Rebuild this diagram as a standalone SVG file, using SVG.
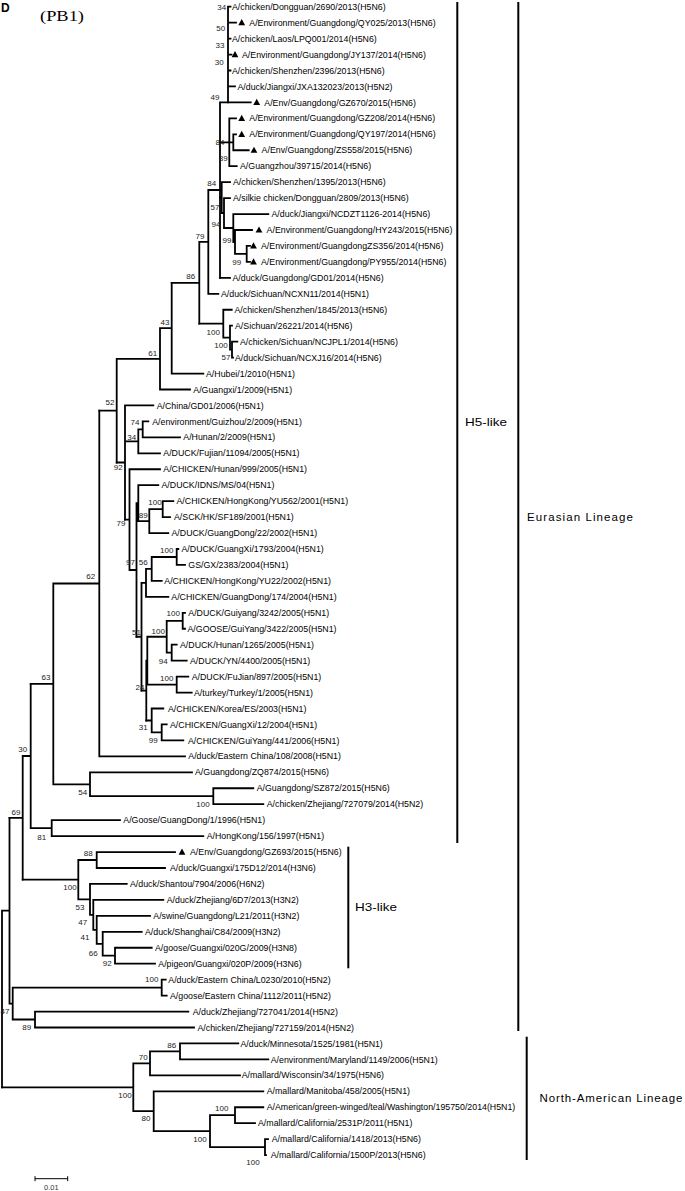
<svg xmlns="http://www.w3.org/2000/svg" xmlns:xlink="http://www.w3.org/1999/xlink" width="685" height="1191" viewBox="0 0 685 1191">
<style>
.l{font-family:"Liberation Sans",Arial,sans-serif;font-size:8.8px;fill:#000}
.b{font-family:"Liberation Sans",Arial,sans-serif;font-size:8px;fill:#222;text-anchor:middle}
.t{stroke:#000;stroke-width:1.8;fill:none;stroke-linecap:square}
.bar{stroke:#000;stroke-width:2;fill:none}
.g{font-family:"Liberation Sans",Arial,sans-serif;font-size:11.5px;fill:#000}
</style>
<defs><path id="tri" d="M0,-3.6 L3.4,2.6 L-3.4,2.6 Z" fill="#000"/></defs>
<rect width="685" height="1191" fill="#fff"/>
<text x="1" y="12" font-family="Liberation Sans,Arial,sans-serif" font-size="12" font-weight="bold">D</text>
<text x="40" y="21" font-family="Liberation Serif,Times New Roman,serif" font-size="14" textLength="44" lengthAdjust="spacingAndGlyphs">(PB1)</text>
<g id="connectors" class="t">
<path d="M228,6.7V102.4 M228,6.7H230.5 M228,22.65H236 M228,38.6H230.5 M228,54.55H231.5 M228,70.5H230.5 M228,86.45H235"/>
<path d="M220,102.4V277.85 M220,102.4H250.7"/>
<path d="M220,142.3H229.3 M229.3,118.35V166.2 M229.3,142.3H233.3 M233.3,134.3V150.25 M229.3,118.35H236 M233.3,134.3H236 M233.3,150.25H248.7 M229.3,166.2H236.7"/>
<path d="M220,197.6H221.7 M221.7,182.15V213 M221.7,182.15H230 M221.7,213H224 M224,198.1V228 M224,198.1H230 M224,228H233.3 M233.3,214.05V242 M233.3,214.05H268.3 M233.3,242H235 M235,230V253.9 M235,230H252 M235,253.9H246.7 M246.7,245.95V261.9 M246.7,245.95H250 M246.7,261.9H250 M220,277.85H230"/>
<path d="M208.3,190H220 M208.3,190V293.8 M208.3,293.8H218.3 M199.3,241.9H208.3 M199.3,241.9V323.7 M171.7,282.8H199.3"/>
<path d="M199.3,323.7H223.3 M223.3,309.75V337.7 M223.3,309.75H231.7 M223.3,337.7H230 M230,325.7V349.6 M230,325.7H232 M230,349.6H232 M232,341.65V357.6 M232,341.65H237.3 M232,357.6H233"/>
<path d="M171.7,282.8V373.55 M160,328.2H171.7 M171.7,373.55H203.3 M160,328.2V389.5 M116.7,358.85H160 M160,389.5H190 M116.7,358.85V462.5 M99.3,410.7H116.7"/>
<path d="M116.7,462.5H125 M125,405.45V519.6 M125,405.45H153.3 M125,441.35H138.3 M138.3,429.4V453.3 M138.3,453.3H160 M138.3,429.4H142.7 M142.7,421.4V437.35 M142.7,421.4H148.3 M142.7,437.35H180"/>
<path d="M125,519.6H129.5 M129.5,469.25V570 M129.5,469.25H160 M129.5,570H136.5 M136.5,503.2V636.75 M136.5,503.2H138.3 M138.3,485.2V521.1 M138.3,485.2H158.3 M138.3,521.1H149.3 M149.3,509.1V533.05 M149.3,533.05H168.3 M149.3,509.1H162.7 M162.7,501.15V517.1 M162.7,501.15H173.3 M162.7,517.1H170"/>
<path d="M136.5,636.75H141.5 M141.5,582.9V690.6 M141.5,582.9H146 M146,568.95V596.85 M146,596.85H168.3 M146,568.95H151.7 M151.7,557V580.9 M151.7,580.9H161.7 M151.7,557H176.7 M176.7,549V564.95 M176.7,549H178.3 M176.7,564.95H185"/>
<path d="M141.5,690.6H146.3 M146.3,660.7V720.5 M146.3,660.7H147.3 M147.3,636.75V684.6 M147.3,636.75H166.7 M166.7,620.8V652.7 M166.7,620.8H182.7 M182.7,612.8V628.75 M182.7,612.8H185 M182.7,628.75H185 M166.7,652.7H171.7 M171.7,644.7V660.65 M171.7,644.7H176.7 M171.7,660.65H186.7 M147.3,684.6H176.7 M176.7,676.6V692.55 M176.7,676.6H188.3 M176.7,692.55H191.7"/>
<path d="M146.3,720.5H151.7 M151.7,708.5V732.4 M151.7,708.5H163.3 M151.7,732.4H161.7 M161.7,724.45V740.4 M161.7,724.45H166.7 M161.7,740.4H183.3"/>
<path d="M99.3,410.7V756.35 M53.3,583.5H99.3 M99.3,756.35H185 M53.3,583.5V784.3 M30.7,683.9H53.3 M53.3,784.3H90 M90,772.3V796.2 M90,772.3H192 M90,796.2H213.3 M213.3,788.25V804.2 M213.3,788.25H253.3 M213.3,804.2H263.3"/>
<path d="M30.7,683.9V828.1 M22.7,756H30.7 M30.7,828.1H51.7 M51.7,820.15V836.1 M51.7,820.15H120 M51.7,836.1H203.3 M22.7,756V879.7 M9.5,817.9H22.7"/>
<path d="M22.7,879.7H78.3 M78.3,860V899.4 M78.3,860H96.7 M96.7,852.05V868 M96.7,852.05H175 M96.7,868H165 M78.3,899.4H90 M90,883.95V914.9 M90,883.95H126.7 M90,914.9H93.3 M93.3,899.9V929.8 M93.3,899.9H163.3 M93.3,929.8H96.7 M96.7,915.85V943.8 M96.7,915.85H150 M96.7,943.8H102.7 M102.7,931.8V955.7 M102.7,931.8H141.7 M102.7,955.7H115 M115,947.75V963.7 M115,947.75H151.7 M115,963.7H155"/>
<path d="M9.5,817.9V1003.6 M2,910.7H9.5 M9.5,1003.6H12.7 M12.7,987.6V1019.5 M12.7,987.6H161.7 M161.7,979.65V995.6 M161.7,979.65H165.7 M161.7,995.6H166.7 M12.7,1019.5H35 M35,1011.55V1027.5 M35,1011.55H188.3 M35,1027.5H194 M2,910.7V1087.3"/>
<path d="M2,1087.3H133.3 M133.3,1063.4V1111.2 M133.3,1063.4H150 M150,1051.4V1075.35 M150,1075.35H240 M150,1051.4H180 M180,1043.45V1059.4 M180,1043.45H238.3 M180,1059.4H268.3 M133.3,1111.2H153.7 M153.7,1091.3V1131.2 M153.7,1091.3H263.3 M153.7,1131.2H210 M210,1115.2V1147.1 M210,1115.2H235 M235,1107.25V1123.2 M235,1107.25H263.3 M235,1123.2H255 M210,1147.1H265 M265,1139.15V1155.1 M265,1139.15H268 M265,1155.1H266"/>
</g>
<g id="markers">
<use xlink:href="#tri" x="241.7" y="22.65"/>
<use xlink:href="#tri" x="235" y="54.55"/>
<use xlink:href="#tri" x="256.7" y="102.4"/>
<use xlink:href="#tri" x="241.7" y="118.35"/>
<use xlink:href="#tri" x="241.7" y="134.3"/>
<use xlink:href="#tri" x="254" y="150.25"/>
<use xlink:href="#tri" x="259" y="230"/>
<use xlink:href="#tri" x="253.5" y="245.95"/>
<use xlink:href="#tri" x="253.5" y="261.9"/>
<use xlink:href="#tri" x="182" y="852.05"/>
</g>
<g id="leaves" class="l">
<g id="leaf1"><text x="232" y="9.8">A/chicken/Dongguan/2690/2013(H5N6)</text></g>
<g id="leaf2"><text x="249.3" y="25.75">A/Environment/Guangdong/QY025/2013(H5N6)</text></g>
<g id="leaf3"><text x="232" y="41.7">A/chicken/Laos/LPQ001/2014(H5N6)</text></g>
<g id="leaf4"><text x="242" y="57.65">A/Environment/Guangdong/JY137/2014(H5N6)</text></g>
<g id="leaf5"><text x="232" y="73.6">A/chicken/Shenzhen/2396/2013(H5N6)</text></g>
<g id="leaf6"><text x="237.5" y="89.55">A/duck/Jiangxi/JXA132023/2013(H5N2)</text></g>
<g id="leaf7"><text x="264.3" y="105.5">A/Env/Guangdong/GZ670/2015(H5N6)</text></g>
<g id="leaf8"><text x="249.3" y="121.45">A/Environment/Guangdong/GZ208/2014(H5N6)</text></g>
<g id="leaf9"><text x="249.3" y="137.4">A/Environment/Guangdong/QY197/2014(H5N6)</text></g>
<g id="leaf10"><text x="261.6" y="153.35">A/Env/Guangdong/ZS558/2015(H5N6)</text></g>
<g id="leaf11"><text x="240" y="169.3">A/Guangzhou/39715/2014(H5N6)</text></g>
<g id="leaf12"><text x="233" y="185.25">A/chicken/Shenzhen/1395/2013(H5N6)</text></g>
<g id="leaf13"><text x="233" y="201.2">A/silkie chicken/Dongguan/2809/2013(H5N6)</text></g>
<g id="leaf14"><text x="271.5" y="217.15">A/duck/Jiangxi/NCDZT1126-2014(H5N6)</text></g>
<g id="leaf15"><text x="266.6" y="233.1">A/Environment/Guangdong/HY243/2015(H5N6)</text></g>
<g id="leaf16"><text x="261" y="249.05">A/Environment/GuangdongZS356/2014(H5N6)</text></g>
<g id="leaf17"><text x="261" y="265">A/Environment/Guangdong/PY955/2014(H5N6)</text></g>
<g id="leaf18"><text x="232.5" y="280.95">A/duck/Guangdong/GD01/2014(H5N6)</text></g>
<g id="leaf19"><text x="221" y="296.9">A/duck/Sichuan/NCXN11/2014(H5N1)</text></g>
<g id="leaf20"><text x="234.5" y="312.85">A/chicken/Shenzhen/1845/2013(H5N6)</text></g>
<g id="leaf21"><text x="235" y="328.8">A/Sichuan/26221/2014(H5N6)</text></g>
<g id="leaf22"><text x="240" y="344.75">A/chicken/Sichuan/NCJPL1/2014(H5N6)</text></g>
<g id="leaf23"><text x="235" y="360.7">A/duck/Sichuan/NCXJ16/2014(H5N6)</text></g>
<g id="leaf24"><text x="206" y="376.65">A/Hubei/1/2010(H5N1)</text></g>
<g id="leaf25"><text x="193.3" y="392.6">A/Guangxi/1/2009(H5N1)</text></g>
<g id="leaf26"><text x="156.7" y="408.55">A/China/GD01/2006(H5N1)</text></g>
<g id="leaf27"><text x="152.2" y="424.5">A/environment/Guizhou/2/2009(H5N1)</text></g>
<g id="leaf28"><text x="183.3" y="440.45">A/Hunan/2/2009(H5N1)</text></g>
<g id="leaf29"><text x="163.3" y="456.4">A/DUCK/Fujian/11094/2005(H5N1)</text></g>
<g id="leaf30"><text x="163.3" y="472.35">A/CHICKEN/Hunan/999/2005(H5N1)</text></g>
<g id="leaf31"><text x="161.5" y="488.3">A/DUCK/IDNS/MS/04(H5N1)</text></g>
<g id="leaf32"><text x="176.5" y="504.25">A/CHICKEN/HongKong/YU562/2001(H5N1)</text></g>
<g id="leaf33"><text x="174" y="520.2">A/SCK/HK/SF189/2001(H5N1)</text></g>
<g id="leaf34"><text x="171.5" y="536.15">A/DUCK/GuangDong/22/2002(H5N1)</text></g>
<g id="leaf35"><text x="181.5" y="552.1">A/DUCK/GuangXi/1793/2004(H5N1)</text></g>
<g id="leaf36"><text x="188.3" y="568.05">GS/GX/2383/2004(H5N1)</text></g>
<g id="leaf37"><text x="164.3" y="584">A/CHICKEN/HongKong/YU22/2002(H5N1)</text></g>
<g id="leaf38"><text x="171.3" y="599.95">A/CHICKEN/GuangDong/174/2004(H5N1)</text></g>
<g id="leaf39"><text x="188.3" y="615.9">A/DUCK/Guiyang/3242/2005(H5N1)</text></g>
<g id="leaf40"><text x="187.5" y="631.85">A/GOOSE/GuiYang/3422/2005(H5N1)</text></g>
<g id="leaf41"><text x="180" y="647.8">A/DUCK/Hunan/1265/2005(H5N1)</text></g>
<g id="leaf42"><text x="190" y="663.75">A/DUCK/YN/4400/2005(H5N1)</text></g>
<g id="leaf43"><text x="191.7" y="679.7">A/DUCK/FuJian/897/2005(H5N1)</text></g>
<g id="leaf44"><text x="194" y="695.65">A/turkey/Turkey/1/2005(H5N1)</text></g>
<g id="leaf45"><text x="168" y="711.6">A/CHICKEN/Korea/ES/2003(H5N1)</text></g>
<g id="leaf46"><text x="170" y="727.55">A/CHICKEN/GuangXi/12/2004(H5N1)</text></g>
<g id="leaf47"><text x="188" y="743.5">A/CHICKEN/GuiYang/441/2006(H5N1)</text></g>
<g id="leaf48"><text x="188.3" y="759.45">A/duck/Eastern China/108/2008(H5N1)</text></g>
<g id="leaf49"><text x="195" y="775.4">A/Guangdong/ZQ874/2015(H5N6)</text></g>
<g id="leaf50"><text x="256.7" y="791.35">A/Guangdong/SZ872/2015(H5N6)</text></g>
<g id="leaf51"><text x="266.7" y="807.3">A/chicken/Zhejiang/727079/2014(H5N2)</text></g>
<g id="leaf52"><text x="123.3" y="823.25">A/Goose/GuangDong/1/1996(H5N1)</text></g>
<g id="leaf53"><text x="206.7" y="839.2">A/HongKong/156/1997(H5N1)</text></g>
<g id="leaf54"><text x="190" y="855.15">A/Env/Guangdong/GZ693/2015(H5N6)</text></g>
<g id="leaf55"><text x="170" y="871.1">A/duck/Guangxi/175D12/2014(H3N6)</text></g>
<g id="leaf56"><text x="130" y="887.05">A/duck/Shantou/7904/2006(H6N2)</text></g>
<g id="leaf57"><text x="166.7" y="903">A/duck/Zhejiang/6D7/2013(H3N2)</text></g>
<g id="leaf58"><text x="153.3" y="918.95">A/swine/Guangdong/L21/2011(H3N2)</text></g>
<g id="leaf59"><text x="145" y="934.9">A/duck/Shanghai/C84/2009(H3N2)</text></g>
<g id="leaf60"><text x="155" y="950.85">A/goose/Guangxi/020G/2009(H3N8)</text></g>
<g id="leaf61"><text x="158.3" y="966.8">A/pigeon/Guangxi/020P/2009(H3N6)</text></g>
<g id="leaf62"><text x="168.3" y="982.75">A/duck/Eastern China/L0230/2010(H5N2)</text></g>
<g id="leaf63"><text x="170" y="998.7">A/goose/Eastern China/1112/2011(H5N2)</text></g>
<g id="leaf64"><text x="192.7" y="1014.65">A/duck/Zhejiang/727041/2014(H5N2)</text></g>
<g id="leaf65"><text x="197.5" y="1030.6">A/chicken/Zhejiang/727159/2014(H5N2)</text></g>
<g id="leaf66"><text x="240.5" y="1046.55">A/duck/Minnesota/1525/1981(H5N1)</text></g>
<g id="leaf67"><text x="270.7" y="1062.5">A/environment/Maryland/1149/2006(H5N1)</text></g>
<g id="leaf68"><text x="241.7" y="1078.45">A/mallard/Wisconsin/34/1975(H5N6)</text></g>
<g id="leaf69"><text x="266.7" y="1094.4">A/mallard/Manitoba/458/2005(H5N1)</text></g>
<g id="leaf70"><text x="266.7" y="1110.35">A/American/green-winged/teal/Washington/195750/2014(H5N1)</text></g>
<g id="leaf71"><text x="258" y="1126.3">A/mallard/California/2531P/2011(H5N1)</text></g>
<g id="leaf72"><text x="271.7" y="1142.25">A/mallard/California/1418/2013(H5N6)</text></g>
<g id="leaf73"><text x="270.7" y="1158.2">A/mallard/California/1500P/2013(H5N6)</text></g>
</g>
<g id="bootstrap" class="b">
<text x="221.7" y="9.6">34</text><text x="220.7" y="31.2">50</text><text x="220" y="47.9">33</text><text x="219.3" y="64.6">30</text><text x="215" y="99.6">49</text>
<text x="220" y="144.6">84</text><text x="223.3" y="161.2">89</text><text x="211.7" y="186.2">84</text><text x="215" y="209.6">57</text><text x="216" y="226.9">94</text>
<text x="227" y="242.9">99</text><text x="236.7" y="264.6">99</text><text x="200" y="238.9">79</text><text x="190.7" y="278.9">86</text><text x="165" y="324.9">43</text>
<text x="213.3" y="334.6">100</text><text x="221" y="347.9">100</text><text x="226" y="360.2">57</text><text x="152.7" y="355.9">61</text><text x="110" y="404.6">52</text>
<text x="135" y="424.6">74</text><text x="131.7" y="439.6">34</text><text x="118.3" y="469.6">92</text><text x="155" y="504.6">100</text><text x="143.3" y="517.9">89</text>
<text x="121" y="526">79</text><text x="130.5" y="564.6">97</text><text x="143.3" y="564.6">56</text><text x="166.7" y="552.9">100</text><text x="90.7" y="578.9">62</text>
<text x="136.5" y="634.6">51</text><text x="158.3" y="633.6">100</text><text x="173.3" y="616.2">100</text><text x="163.3" y="663.6">94</text><text x="166.7" y="681.2">100</text>
<text x="140" y="690.2">24</text><text x="143.3" y="730.2">31</text><text x="153.3" y="742.9">99</text><text x="46" y="680">63</text><text x="22.7" y="752.2">30</text>
<text x="82.7" y="794.6">54</text><text x="203" y="806.9">100</text><text x="16" y="814.5">69</text><text x="41.7" y="839.6">81</text><text x="88.3" y="856.2">88</text>
<text x="70" y="889.6">100</text><text x="80" y="909.6">53</text><text x="82.7" y="924.6">47</text><text x="85" y="940.2">41</text><text x="93.3" y="955.6">66</text>
<text x="107.3" y="966.2">92</text><text x="151.7" y="982.2">100</text><text x="5" y="1013.6">47</text><text x="26.7" y="1029.6">89</text><text x="171.7" y="1047.9">86</text>
<text x="143.3" y="1059.6">70</text><text x="125" y="1097.9">100</text><text x="146" y="1120.9">80</text><text x="221.7" y="1110.9">100</text><text x="200" y="1141.9">100</text>
<text x="253" y="1164.6">100</text>
</g>
<g id="clade-h5">
<path class="bar" d="M457.3,2V843"/>
<text class="g" x="465" y="425.7" textLength="42" lengthAdjust="spacingAndGlyphs">H5-like</text>
</g>
<g id="clade-eurasian">
<path class="bar" d="M518.3,2V1031"/>
<text class="g" x="527" y="520.7" textLength="106" lengthAdjust="spacing">Eurasian Lineage</text>
</g>
<g id="clade-h3">
<path class="bar" d="M348.3,846.7V968.3"/>
<text class="g" x="355" y="911" textLength="42" lengthAdjust="spacingAndGlyphs">H3-like</text>
</g>
<g id="clade-na">
<path class="bar" d="M526.7,1036.7V1160"/>
<text class="g" x="539.5" y="1102" textLength="143" lengthAdjust="spacing">North-American Lineage</text>
</g>
<g id="scale">
<path d="M35,1178.7H67.7 M35,1176.2V1181.2 M67.7,1176.2V1181.2" stroke="#000" stroke-width="1" fill="none"/>
<text x="51.3" y="1190" font-family="Liberation Sans,Arial,sans-serif" font-size="7.5" text-anchor="middle" fill="#333">0.01</text>
</g>
</svg>
